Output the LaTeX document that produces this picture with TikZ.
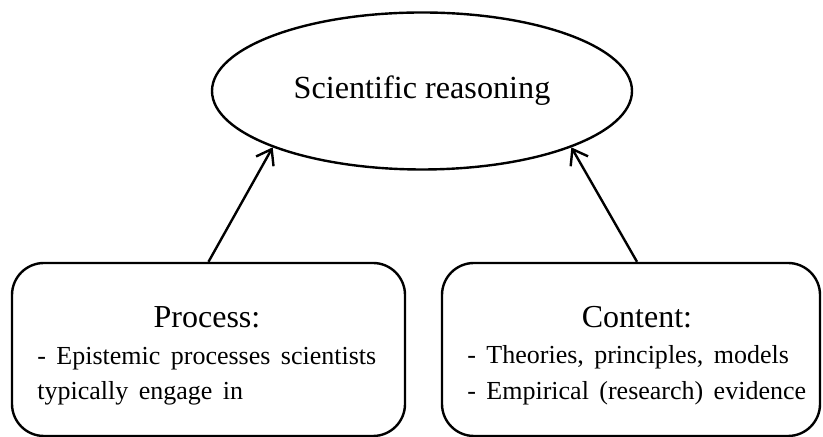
\documentclass[tikz,border=0pt]{standalone}
\usepackage{fontspec}
\setmainfont{Liberation Serif}
\newfontfamily\itemfont{Liberation Serif}[WordSpace=1.6]
\usetikzlibrary{positioning,shapes.geometric,arrows.meta}

\begin{document}
\begin{tikzpicture}[
    x=1pt, y=1pt,
    topic/.style={ellipse, draw, line width=1.2pt, minimum width=210pt,
        minimum height=78.5pt, inner sep=0pt, font=\fontsize{16.1}{20}\selectfont},
    part/.style={rectangle, draw, line width=1.2pt, rounded corners=16pt,
        minimum width=#1, minimum height=86.5pt, inner sep=0pt},
    head/.style={anchor=base, inner sep=0pt, font=\fontsize{16}{20}\selectfont},
    item/.style={anchor=base west, inner sep=0pt,
        font=\itemfont\fontsize{13}{16}\selectfont},
    link/.style={-{Straight Barb[length=7pt,width=10pt]}, line width=1.2pt}
]
\useasboundingbox (0,0) rectangle (411.5,218.5);

\node (reasoning) [topic] at (211,173) {Scientific reasoning};

% the two parts
\node (procbox) [part=196.5pt] at (104.25,43.75) {};
\node (contbox) [part=189pt] at (315.5,43.75) {};

\node (prochead) [head] at (103.5,54.5) {Process:};
\node (procitem) [item] at (18.5,36) {- Epistemic processes scientists};
\node (procmore) [item] at (18.5,18.5) {typically engage in};

\node (conthead) [head] at (318.5,54.5) {Content:};
\node (contitem) [item] at (233.5,36.5) {- Theories, principles, models};
\node (contmore) [item] at (233.5,18.5) {- Empirical (research) evidence};

\draw [link] (procbox.north) -- (reasoning.south west);
\draw [link] ([xshift=3pt]contbox.north) -- (reasoning.south east);
\end{tikzpicture}
\end{document}
